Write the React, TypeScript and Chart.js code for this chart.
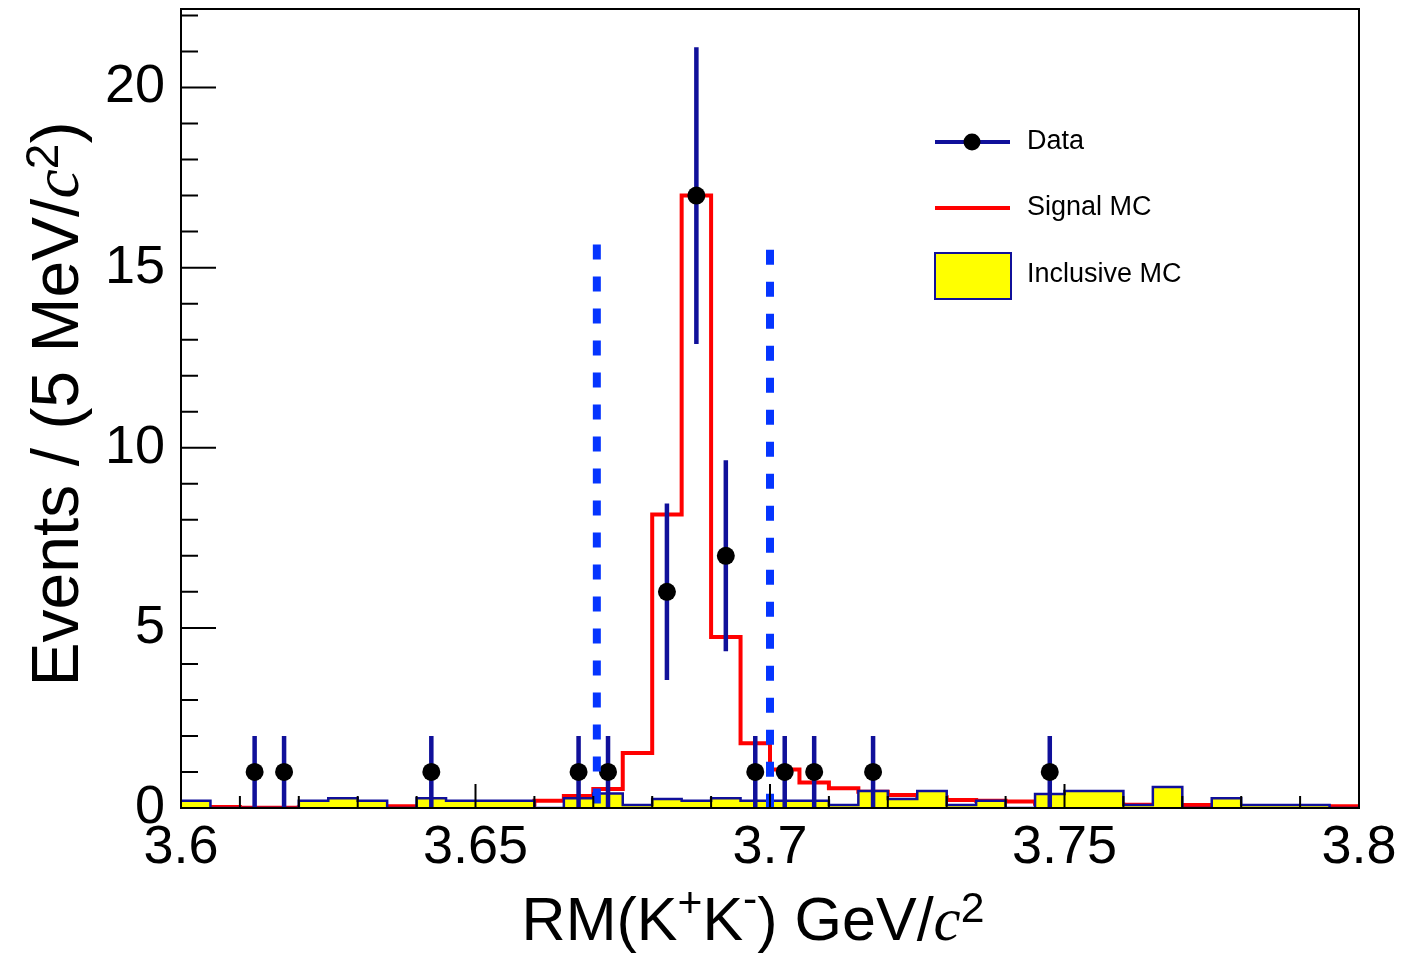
import React, { useEffect, useRef } from "react";
import { Chart, registerables } from "chart.js";

Chart.register(...registerables);

// ---------- data ----------
const binEdges = [
  3.6, 3.605, 3.61, 3.615, 3.62, 3.625, 3.63, 3.635, 3.64, 3.645,
  3.65, 3.655, 3.66, 3.665, 3.67, 3.675, 3.68, 3.685, 3.69, 3.695,
  3.7, 3.705, 3.71, 3.715, 3.72, 3.725, 3.73, 3.735, 3.74, 3.745,
  3.75, 3.755, 3.76, 3.765, 3.77, 3.775, 3.78, 3.785, 3.79, 3.795, 3.8,
];

const signalMC = [
  0.02, 0.03, 0.01, 0.01, 0.02, 0.02, 0.02, 0.05, 0.05, 0.1,
  0.1, 0.1, 0.2, 0.33, 0.53, 1.53, 8.15, 17.0, 4.75, 1.8,
  1.07, 0.71, 0.55, 0.45, 0.36, 0.3, 0.22, 0.2, 0.18, 0.12,
  0.1, 0.1, 0.09, 0.08, 0.08, 0.05, 0.03, 0.03, 0.03, 0.05,
];

const inclusiveMC = [
  0.2, 0, 0, 0, 0.2, 0.27, 0.2, 0, 0.27, 0.2,
  0.2, 0.2, 0, 0.27, 0.4, 0.08, 0.25, 0.2, 0.27, 0.2,
  0.2, 0.2, 0.08, 0.47, 0.25, 0.47, 0.08, 0.2, 0, 0.39,
  0.47, 0.47, 0.08, 0.58, 0, 0.27, 0.08, 0.08, 0.08, 0,
];

const dataMass = [
  3.6125, 3.6175, 3.6425, 3.6675, 3.6725, 3.6825, 3.6875,
  3.6925, 3.6975, 3.7025, 3.7075, 3.7175, 3.7475,
];
const dataCounts = [1, 1, 1, 1, 1, 6, 17, 7, 1, 1, 1, 1, 1];
const dataErrors = [1, 1, 1, 1, 1, 2.45, 4.12, 2.65, 1, 1, 1, 1, 1];

const cutMass = [3.6706, 3.7];
const cutTop = [15.64, 15.5];

const xTickValues = [3.6, 3.65, 3.7, 3.75, 3.8];
const xTickLabels = ["3.6", "3.65", "3.7", "3.75", "3.8"];
const yTickValues = [0, 5, 10, 15, 20];
const yTickLabels = ["0", "5", "10", "15", "20"];
const legendLabels = ["Data", "Signal MC", "Inclusive MC"];

const X_MIN = 3.6;
const X_MAX = 3.8;
const Y_MAX = 22.18;

// ---------- styles ----------
const SANS = "'Liberation Sans', Arial, Helvetica, sans-serif";
const SERIF = "'Liberation Serif', 'Times New Roman', serif";
const NAVY = "#10109a";
const RED = "#ff0000";
const YELLOW = "#ffff00";
const CUT_BLUE = "#0535ff";

type Seg = { t: string; italic?: boolean; serif?: boolean; raise?: number; scale?: number };

const xTitleSegs: Seg[] = [
  { t: "RM(K" },
  { t: "+", scale: 0.7, raise: 0.38 },
  { t: "K" },
  { t: "-", scale: 0.7, raise: 0.45 },
  { t: ") GeV/" },
  { t: "c", italic: true, serif: true, scale: 1.0 },
  { t: "2", scale: 0.7, raise: 0.3 },
];

const yTitleSegs: Seg[] = [
  { t: "Events / (5 MeV/" },
  { t: "c", italic: true, serif: true, scale: 1.0 },
  { t: "2", scale: 0.7, raise: 0.3 },
  { t: ")" },
];

function segFont(seg: Seg, size: number) {
  const s = size * (seg.scale ?? 1);
  return `${seg.italic ? "italic " : ""}${s}px ${seg.serif ? SERIF : SANS}`;
}

function richWidth(ctx: CanvasRenderingContext2D, segs: Seg[], size: number) {
  let w = 0;
  for (const s of segs) {
    ctx.font = segFont(s, size);
    w += ctx.measureText(s.t).width;
  }
  return w;
}

function drawRich(ctx: CanvasRenderingContext2D, segs: Seg[], x: number, y: number, size: number) {
  ctx.textAlign = "left";
  ctx.textBaseline = "alphabetic";
  let cx = x;
  for (const s of segs) {
    ctx.font = segFont(s, size);
    ctx.fillText(s.t, cx, y - (s.raise ?? 0) * size);
    cx += ctx.measureText(s.t).width;
  }
}

function histPoints(vals: number[]) {
  return binEdges.map((e, i) => ({ x: e, y: vals[Math.min(i, vals.length - 1)] }));
}

const framePlugin = {
  id: "rootFrame",
  afterDatasetsDraw(chart: any) {
    const { ctx, chartArea: a, scales } = chart;
    const xs = scales.x;
    const ys = scales.y;
    ctx.save();
    ctx.strokeStyle = "#000";
    ctx.lineWidth = 2;
    ctx.beginPath();
    for (let k = 0; k <= 20; k++) {
      const v = X_MIN + k * 0.01;
      const major = k % 5 === 0;
      const px = xs.getPixelForValue(v);
      ctx.moveTo(px, a.bottom);
      ctx.lineTo(px, a.bottom - (major ? 24 : 12));
    }
    for (let k = 0; k <= 22; k++) {
      const py = ys.getPixelForValue(k);
      const major = k % 5 === 0;
      ctx.moveTo(a.left, py);
      ctx.lineTo(a.left + (major ? 35 : 17), py);
    }
    ctx.stroke();
    ctx.strokeRect(a.left, a.top, a.right - a.left, a.bottom - a.top);
    ctx.restore();
  },
};

const textPlugin = {
  id: "rootText",
  afterDraw(chart: any) {
    const { ctx } = chart;
    ctx.save();
    ctx.fillStyle = "#000";
    // x title
    const xs = 61;
    const xw = richWidth(ctx, xTitleSegs, xs);
    drawRich(ctx, xTitleSegs, 753 - xw / 2, 940, xs);
    // y title
    const ysz = 66;
    const yw = richWidth(ctx, yTitleSegs, ysz);
    ctx.translate(78, 404);
    ctx.rotate(-Math.PI / 2);
    drawRich(ctx, yTitleSegs, -yw / 2, 0, ysz);
    ctx.restore();

    // legend
    ctx.save();
    ctx.lineCap = "butt";
    ctx.strokeStyle = NAVY;
    ctx.lineWidth = 4;
    ctx.beginPath();
    ctx.moveTo(935, 142);
    ctx.lineTo(1010, 142);
    ctx.stroke();
    ctx.fillStyle = "#000";
    ctx.beginPath();
    ctx.arc(972, 142, 8.5, 0, Math.PI * 2);
    ctx.fill();

    ctx.strokeStyle = RED;
    ctx.beginPath();
    ctx.moveTo(935, 208);
    ctx.lineTo(1010, 208);
    ctx.stroke();

    ctx.fillStyle = YELLOW;
    ctx.fillRect(935, 253, 76, 46);
    ctx.strokeStyle = NAVY;
    ctx.lineWidth = 2;
    ctx.strokeRect(935, 253, 76, 46);

    ctx.fillStyle = "#000";
    ctx.font = `27px ${SANS}`;
    ctx.textAlign = "left";
    ctx.textBaseline = "middle";
    const ly = [142, 208, 275];
    legendLabels.forEach((t, i) => ctx.fillText(t, 1027, ly[i]));
    ctx.restore();
  },
};

export default function App() {
  const ref = useRef<HTMLCanvasElement | null>(null);

  useEffect(() => {
    const canvas = ref.current;
    if (!canvas) return;

    const errPts: any[] = [];
    dataMass.forEach((m, i) => {
      errPts.push({ x: m, y: dataCounts[i] - dataErrors[i] });
      errPts.push({ x: m, y: dataCounts[i] + dataErrors[i] });
      errPts.push({ x: m, y: null });
    });

    const cutSets = cutMass.map((m, i) => ({
      label: "cut" + i,
      data: [
        { x: m, y: cutTop[i] },
        { x: m, y: 0 },
      ],
      borderColor: CUT_BLUE,
      borderWidth: 8,
      borderDash: [15, 17],
      borderCapStyle: "butt",
      pointRadius: 0,
      fill: false,
      order: 0,
    }));

    const chart = new Chart(canvas, {
      type: "line",
      data: {
        datasets: [
          ...cutSets,
          {
            label: legendLabels[0],
            data: dataMass.map((m, i) => ({ x: m, y: dataCounts[i] })),
            showLine: false,
            pointRadius: 9,
            pointBackgroundColor: "#000",
            pointBorderWidth: 0,
            order: 1,
          },
          {
            label: "errors",
            data: errPts,
            borderColor: NAVY,
            borderWidth: 4.5,
            pointRadius: 0,
            spanGaps: false,
            fill: false,
            order: 2,
          },
          {
            label: legendLabels[2],
            data: histPoints(inclusiveMC),
            stepped: "before",
            borderColor: NAVY,
            borderWidth: 2.5,
            backgroundColor: YELLOW,
            fill: "origin",
            pointRadius: 0,
            order: 3,
          },
          {
            label: legendLabels[1],
            data: histPoints(signalMC),
            stepped: "before",
            borderColor: RED,
            borderWidth: 4,
            fill: false,
            pointRadius: 0,
            order: 4,
          },
        ] as any,
      },
      options: {
        animation: false,
        responsive: false,
        maintainAspectRatio: false,
        layout: { padding: { left: 0, right: 45, top: 9, bottom: 0 } },
        plugins: {
          legend: { display: false },
          tooltip: { enabled: false },
        },
        scales: {
          x: {
            type: "linear",
            min: X_MIN,
            max: X_MAX,
            grid: { display: false, drawTicks: false },
            border: { display: false },
            ticks: {
              color: "#000",
              font: { family: SANS, size: 54 },
              padding: 8,
              maxRotation: 0,
              minRotation: 0,
              autoSkip: false,
              callback: (v: any) => {
                const idx = xTickValues.findIndex((t) => Math.abs(t - Number(v)) < 1e-6);
                return idx >= 0 ? xTickLabels[idx] : "";
              },
            },
            afterBuildTicks: (s: any) => {
              s.ticks = xTickValues.map((v) => ({ value: v }));
            },
            afterFit: (s: any) => {
              s.height = 147;
              s.paddingLeft = 0;
              s.paddingRight = 0;
              s.paddingTop = 0;
              s.paddingBottom = 0;
            },
          },
          y: {
            type: "linear",
            min: 0,
            max: Y_MAX,
            grid: { display: false, drawTicks: false },
            border: { display: false },
            ticks: {
              color: "#000",
              font: { family: SANS, size: 54 },
              padding: 16,
              autoSkip: false,
              callback: (v: any) => {
                const idx = yTickValues.findIndex((t) => Math.abs(t - Number(v)) < 1e-6);
                return idx >= 0 ? yTickLabels[idx] : "";
              },
            },
            afterBuildTicks: (s: any) => {
              s.ticks = yTickValues.map((v) => ({ value: v }));
            },
            afterFit: (s: any) => {
              s.width = 181;
              s.paddingLeft = 0;
              s.paddingRight = 0;
              s.paddingTop = 0;
              s.paddingBottom = 0;
            },
          },
        },
      } as any,
      plugins: [framePlugin, textPlugin],
    });

    return () => chart.destroy();
  }, []);

  return (
    <div
      style={{
        position: "fixed",
        left: 0,
        top: 0,
        width: 1404,
        height: 955,
        background: "#fff",
      }}
    >
      <canvas ref={ref} width={1404} height={955} style={{ display: "block" }} />
    </div>
  );
}
